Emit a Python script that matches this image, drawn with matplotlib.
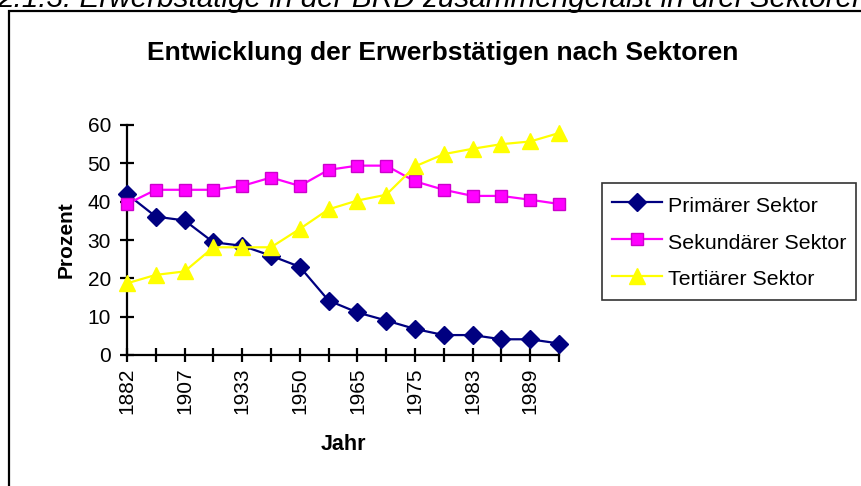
import matplotlib
matplotlib.use("Agg")
import matplotlib.pyplot as plt
from matplotlib.patches import Rectangle

plt.rcParams['font.family'] = ['Liberation Sans', 'DejaVu Sans']

years = ['1882', '1895', '1907', '1925', '1933', '1939', '1950', '1961',
         '1965', '1970', '1975', '1980', '1983', '1986', '1989', '1991']
shown_labels = ['1882', '1907', '1933', '1950', '1965', '1975', '1983', '1989']
primaer = [42.0, 36.1, 35.1, 29.4, 28.5, 25.9, 23.0, 14.2, 11.1, 9.0, 6.8, 5.2, 5.2, 4.1, 4.1, 3.0]
sekundaer = [39.4, 43.1, 43.1, 43.1, 44.1, 46.3, 44.1, 48.3, 49.4, 49.4, 45.3, 43.1, 41.5, 41.5, 40.5, 39.4]
tertiaer = [18.7, 20.9, 21.8, 28.1, 28.1, 28.1, 32.9, 38.0, 40.3, 41.8, 49.2, 52.4, 53.8, 55.0, 55.7, 57.9]

W, H = 862, 486
fig = plt.figure(figsize=(W / 100, H / 100), dpi=100)

# outer frame of chart area
fig.patches.append(Rectangle((9 / W, -0.1), 2.0, (1 - 11 / H) + 0.1, transform=fig.transFigure,
                             fill=False, edgecolor='black', linewidth=1.6))

# cut-off heading above the chart
fig.text(-3 / W, 1 - 7 / H, '2.1.3. Erwerbstätige in der BRD zusammengefaßt in drei Sektoren',
         fontsize=21.4, style='italic', ha='left', va='baseline')

ax = fig.add_axes([127 / W, 1 - 355 / H, (559 - 127) / W, (355 - 125) / H])
x = list(range(len(years)))
ax.plot(x, primaer, color='#000080', marker='D', markersize=9, linewidth=1.6,
        label='Primärer Sektor', clip_on=False, zorder=3)
ax.plot(x, sekundaer, color='#FF00FF', marker='s', markersize=9, linewidth=1.6,
        markerfacecolor='#FF00FF', markeredgecolor='#CC00CC',
        label='Sekundärer Sektor', clip_on=False, zorder=3)
ax.plot(x, tertiaer, color='#FFFF00', marker='^', markersize=11, linewidth=1.6,
        label='Tertiärer Sektor', clip_on=False, zorder=3)

ax.set_xlim(0, len(years) - 1)
ax.set_ylim(0, 60)
ax.set_yticks(range(0, 61, 10))
ax.set_xticks(x)
ax.set_xticklabels([y if y in shown_labels else '' for y in years], rotation=90)
for s in ['top', 'right']:
    ax.spines[s].set_visible(False)
for s in ['left', 'bottom']:
    ax.spines[s].set_linewidth(1.6)
ax.tick_params(axis='both', direction='inout', length=10, width=1.6, labelsize=15)
ax.tick_params(axis='x', pad=4)
ax.tick_params(axis='y', pad=6.5)

ax.set_xlabel('Jahr', fontsize=15.5, fontweight='bold', labelpad=14)
ax.set_ylabel('Prozent', fontsize=15, fontweight='bold', labelpad=9)

fig.text(443 / W, 1 - 60 / H, 'Entwicklung der Erwerbstätigen nach Sektoren',
         fontsize=19, fontweight='bold', ha='center', va='baseline')

leg = fig.legend(loc='upper left', bbox_to_anchor=(602 / W, 1 - 183 / H),
                 fontsize=15.4, frameon=True, fancybox=False, edgecolor='black',
                 handlelength=2.35, handleheight=1.4, borderpad=0.45,
                 labelspacing=0.56, handletextpad=0.28, borderaxespad=0)
leg.get_frame().set_linewidth(1.2)

fig.savefig('out.png', dpi=100)
